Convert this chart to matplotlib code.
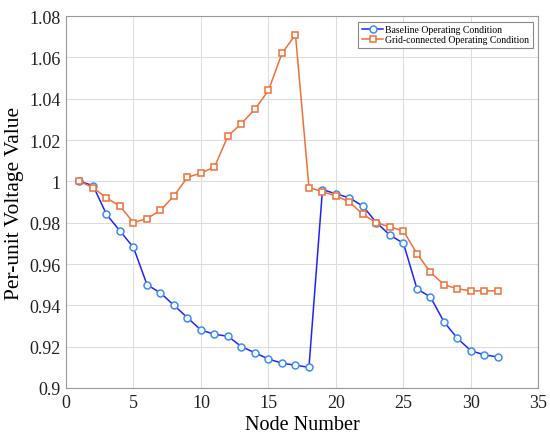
import matplotlib.pyplot as plt
import numpy as np

plt.rcParams['font.family'] = ['Liberation Serif', 'DejaVu Serif']

nodes = list(range(1, 33))
baseline = [1.000, 0.998, 0.984, 0.976, 0.968, 0.950, 0.946, 0.940, 0.934, 0.928,
            0.926, 0.925, 0.920, 0.917, 0.914, 0.912, 0.911, 0.910, 0.996, 0.994,
            0.992, 0.988, 0.980, 0.974, 0.970, 0.948, 0.944, 0.932, 0.924, 0.918,
            0.916, 0.915]
grid_conn = [1.000, 0.997, 0.992, 0.988, 0.980, 0.982, 0.986, 0.993, 1.002, 1.004,
             1.007, 1.022, 1.028, 1.035, 1.044, 1.062, 1.071, 0.997, 0.995, 0.993,
             0.990, 0.984, 0.980, 0.978, 0.976, 0.965, 0.956, 0.950, 0.948, 0.947,
             0.947, 0.947]
xticks = [0, 5, 10, 15, 20, 25, 30, 35]
yticks = [0.9, 0.92, 0.94, 0.96, 0.98, 1.0, 1.02, 1.04, 1.06, 1.08]
ytick_labels = ['0.9', '0.92', '0.94', '0.96', '0.98', '1', '1.02', '1.04', '1.06', '1.08']

fig = plt.figure(figsize=(5.5, 4.39), dpi=100)
ax = fig.add_axes([0.12, 0.114, 0.859, 0.847])

ax.plot(nodes, baseline, '-o', color='#2222ff', lw=1.1, ms=5,
        mfc='white', mec='#3a8ef0', mew=1.1, label='Baseline Operating Condition')
ax.plot(nodes, grid_conn, '-s', color='#f07038', lw=1.1, ms=5,
        mfc='white', mec='#f07038', mew=1.1, label='Grid-connected Operating Condition')

ax.set_xlim(0, 35)
ax.set_ylim(0.9, 1.08)
ax.set_xticks(xticks)
ax.set_yticks(yticks)
ax.set_yticklabels(ytick_labels)
ax.tick_params(length=0, labelsize=13, colors='#222222', pad=4)
ax.grid(True, color='#dddddd', lw=0.8)
for s in ax.spines.values():
    s.set_color('#999999')
    s.set_linewidth(0.8)

ax.set_xlabel('Node Number', fontsize=14.5, labelpad=3)
ax.set_ylabel('Per-unit Voltage Value', fontsize=15.5, labelpad=4)

leg = ax.legend(loc='upper right', fontsize=7, fancybox=False, framealpha=1,
                edgecolor='#888888', borderpad=0.35, handlelength=2.2,
                handletextpad=0.2, labelspacing=0.1, borderaxespad=0.6)
leg.get_frame().set_linewidth(0.8)

fig.savefig('out.png', dpi=100)
